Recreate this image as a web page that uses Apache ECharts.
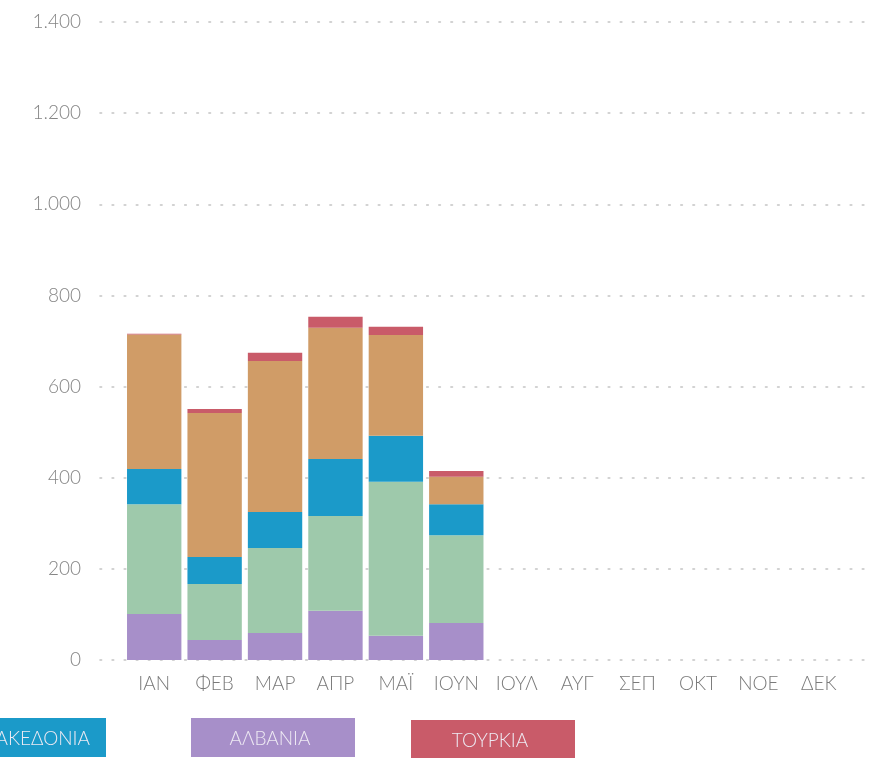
<!DOCTYPE html>
<html>
<head>
<meta charset="utf-8">
<script src="https://cdn.jsdelivr.net/npm/echarts@6/dist/echarts.min.js"></script>
<style>
  html, body { margin: 0; padding: 0; background: #ffffff; }
  #chart { width: 873px; height: 758px; }
</style>
</head>
<body>
<div id="chart"></div>
<script>
// Months (Greek abbreviations)
const months = ['ΙΑΝ', 'ΦΕΒ', 'ΜΑΡ', 'ΑΠΡ', 'ΜΑΪ', 'ΙΟΥΝ', 'ΙΟΥΛ', 'ΑΥΓ', 'ΣΕΠ', 'ΟΚΤ', 'ΝΟΕ', 'ΔΕΚ'];

// Monthly values per country, stacked bottom to top
const albania   = [101, 44, 59, 108, 53, 81];
const bulgaria  = [241, 123, 187, 208, 338, 193];
const macedonia = [77, 59, 79, 125, 101, 68];
const others    = [295, 316, 331, 288, 221, 60];
const turkey    = [2, 9, 18, 24, 18, 13];

const yTicks = [0, 200, 400, 600, 800, 1000, 1200, 1400];

const seriesDefs = [
  { name: 'ΑΛΒΑΝΙΑ', data: albania, color: '#a78fc9' },
  { name: 'ΒΟΥΛΓΑΡΙΑ', data: bulgaria, color: '#9ec9ab' },
  { name: 'ΒΟΡΕΙΑ ΜΑΚΕΔΟΝΙΑ', data: macedonia, color: '#1b9ac9' },
  { name: 'ΛΟΙΠΕΣ', data: others, color: '#d09c67' },
  { name: 'ΤΟΥΡΚΙΑ', data: turkey, color: '#c95b69' }
];

const FONT = 'Lato, "Open Sans", sans-serif';
const yMax = yTicks[yTicks.length - 1];
const yStep = yTicks[1] - yTicks[0];

const fmt = v => String(v).replace(/\B(?=(\d{3})+(?!\d))/g, '.');

const chart = echarts.init(document.getElementById('chart'), null, { renderer: 'canvas' });

// Legend chips drawn as coloured boxes with white captions
const chips = [
  { name: 'ΒΟΡΕΙΑ ΜΑΚΕΔΟΝΙΑ', color: '#1b9ac9', x: -58, w: 164, y: 718, textRight: true },
  { name: 'ΑΛΒΑΝΙΑ', color: '#a78fc9', x: 191, w: 164, y: 718 },
  { name: 'ΤΟΥΡΚΙΑ', color: '#c95b69', x: 411, w: 164, y: 720 }
];
const graphic = [];
chips.forEach(c => {
  graphic.push({
    type: 'rect', left: c.x, top: c.y,
    shape: { width: c.w, height: 39 },
    style: { fill: c.color }
  });
  graphic.push({
    type: 'text',
    x: c.textRight ? c.x + c.w - 16 : c.x + c.w / 2 - 3,
    y: c.y + 21,
    style: {
      text: c.name, fill: '#eeeaf3', font: '300 19px ' + FONT,
      align: c.textRight ? 'right' : 'center', verticalAlign: 'middle'
    }
  });
});

const option = {
  animation: false,
  backgroundColor: '#ffffff',
  grid: [
    { left: 100, right: 8, top: 22, bottom: 98 },
    { left: 124, right: 24, top: 22, bottom: 98 }
  ],
  xAxis: [
    { type: 'value', gridIndex: 0, show: false, min: 0, max: 1 },
    {
      type: 'category', gridIndex: 1, data: months,
      axisLine: { show: false }, axisTick: { show: false },
      axisLabel: { interval: 0, color: '#7a7a7a', fontFamily: FONT, fontWeight: 300, fontSize: 19, margin: 14 }
    }
  ],
  yAxis: [
    {
      type: 'value', gridIndex: 0, min: 0, max: yMax, interval: yStep,
      axisLine: { show: false }, axisTick: { show: false },
      axisLabel: {
        color: '#858585', fontFamily: FONT, fontWeight: 300, fontSize: 19, margin: 19,
        formatter: v => fmt(v)
      },
      splitLine: { show: true, lineStyle: { color: '#c4c4c4', width: 1.6, type: [1.6, 10.5], cap: 'round' } }
    },
    {
      type: 'value', gridIndex: 1, min: 0, max: yMax, interval: yStep,
      show: false, splitLine: { show: false }
    }
  ],
  series: seriesDefs.map(s => ({
    name: s.name, type: 'bar', stack: 'total',
    xAxisIndex: 1, yAxisIndex: 1,
    barCategoryGap: '10%',
    data: s.data,
    itemStyle: { color: s.color }
  })),
  graphic: graphic
};

chart.setOption(option);
</script>
</body>
</html>
